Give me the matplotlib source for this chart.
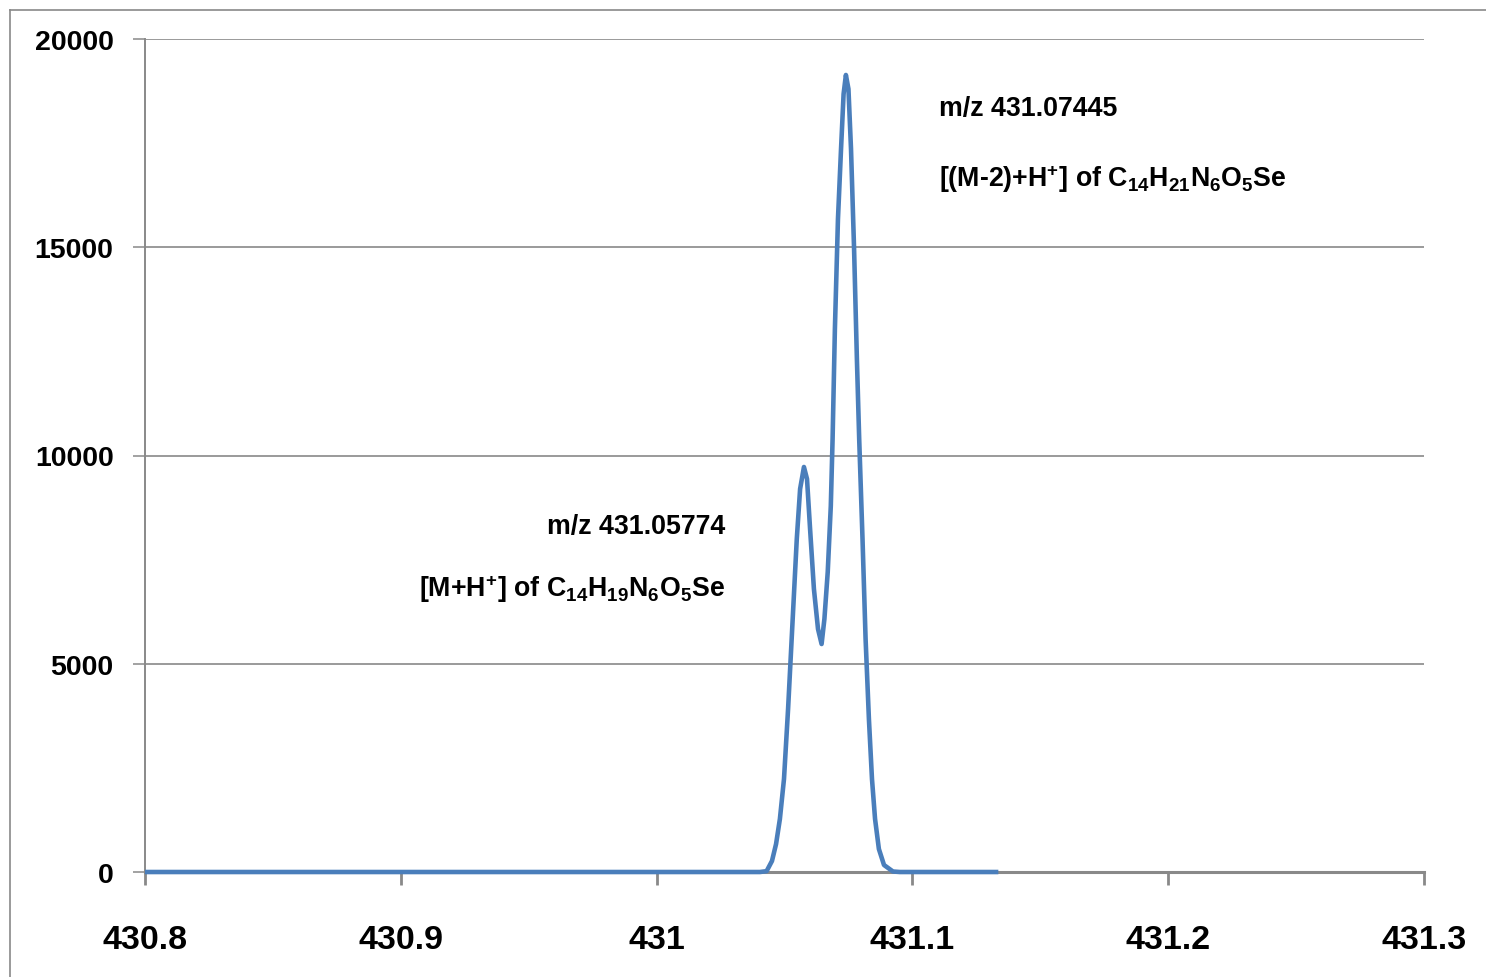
import matplotlib
matplotlib.use("Agg")
from matplotlib import pyplot as plt
from matplotlib import font_manager
from matplotlib.lines import Line2D

# spectrum trace
mz = [430.8, 431.0404, 431.0430, 431.0451, 431.0467, 431.0482, 431.0498, 431.0514,
      431.0528, 431.0548, 431.0561, 431.0576, 431.0588, 431.0600, 431.0615, 431.0631,
      431.0645, 431.0656, 431.0669, 431.0681, 431.0688, 431.0697, 431.0709, 431.0721,
      431.0731, 431.0740, 431.0750, 431.0760, 431.0772, 431.0783, 431.0792, 431.0805,
      431.0817, 431.0830, 431.0842, 431.0854, 431.0869, 431.0889, 431.0924, 431.0951,
      431.1336]
intensity = [0, 0, 20, 264, 672, 1273, 2233, 3914,
             5594, 7995, 9196, 9724, 9436, 8235, 6795, 5834,
             5474, 6074, 7203, 8788, 10396, 13037, 15678, 17359,
             18679, 19136, 18800, 17359, 14958, 12317, 10396, 7995,
             5594, 3673, 2233, 1273, 552, 168, 12, 0,
             0]

x_ticks = [430.8, 430.9, 431.0, 431.1, 431.2, 431.3]
x_labels = ["430.8", "430.9", "431", "431.1", "431.2", "431.3"]
y_ticks = [0, 5000, 10000, 15000, 20000]

peak1_lines = ["m/z 431.05774", "[M+H$^{+}$] of C$_{14}$H$_{19}$N$_{6}$O$_{5}$Se"]
peak2_lines = ["m/z 431.07445", "[(M-2)+H$^{+}$] of C$_{14}$H$_{21}$N$_{6}$O$_{5}$Se"]

names = {f.name for f in font_manager.fontManager.ttflist}
narrow = "Liberation Sans Narrow" if "Liberation Sans Narrow" in names else "Liberation Sans"
ann_size = 21 if narrow == "Liberation Sans Narrow" else 19.3

plt.rcParams["font.family"] = "Liberation Sans"
plt.rcParams["mathtext.fontset"] = "custom"
plt.rcParams["mathtext.rm"] = narrow + ":bold"
plt.rcParams["mathtext.it"] = narrow + ":bold"
plt.rcParams["mathtext.bf"] = narrow + ":bold"
plt.rcParams["mathtext.default"] = "rm"

grey = "#898989"
blue = "#4a7ebb"

W, H = 1486, 978
fig = plt.figure(figsize=(W / 100, H / 100), dpi=100)
ax = fig.add_axes([145 / W, 1 - 873 / H, (1424 - 145) / W, (873 - 40) / H])

ax.plot(mz, intensity, color=blue, lw=3.3, zorder=4, clip_on=False,
        solid_joinstyle="round", solid_capstyle="butt")

ax.set_xlim(430.8, 431.3)
ax.set_ylim(0, 20000)
ax.set_xticks(x_ticks)
ax.set_xticklabels(x_labels)
ax.set_yticks(y_ticks)
ax.set_yticklabels([str(v) for v in y_ticks])

ax.grid(axis="y", color=grey, lw=1.2)
ax.set_axisbelow(True)
for s in ["top", "right"]:
    ax.spines[s].set_visible(False)
ax.spines["bottom"].set_color(grey)
ax.spines["bottom"].set_linewidth(2.2)
ax.spines["left"].set_color(grey)
ax.spines["left"].set_linewidth(1.4)

ax.tick_params(axis="x", direction="out", length=9.4, width=2, color=grey,
               pad=28, labelsize=24.5)
ax.tick_params(axis="y", direction="out", length=8.6, width=1.1, color=grey,
               pad=14, labelsize=20.5)
for lab in ax.get_xticklabels() + ax.get_yticklabels():
    lab.set_fontweight("bold")

txt = dict(fontsize=ann_size, fontweight="bold", family=narrow, va="baseline",
           transform=ax.transAxes)
ax.text(0.4535, 0.407, peak1_lines[0], ha="right", **txt)
ax.text(0.4535, 0.3313, peak1_lines[1], ha="right", **txt)
ax.text(0.6208, 0.9088, peak2_lines[0], ha="left", **txt)
ax.text(0.6208, 0.8235, peak2_lines[1], ha="left", **txt)

# chart frame
fig.add_artist(Line2D([9.5 / W, 9.5 / W], [0, 1 - 10.5 / H], color=grey, lw=1.2))
fig.add_artist(Line2D([9.5 / W, 1], [1 - 10.5 / H, 1 - 10.5 / H], color=grey, lw=1.2))

fig.savefig("out.png", dpi=100)
